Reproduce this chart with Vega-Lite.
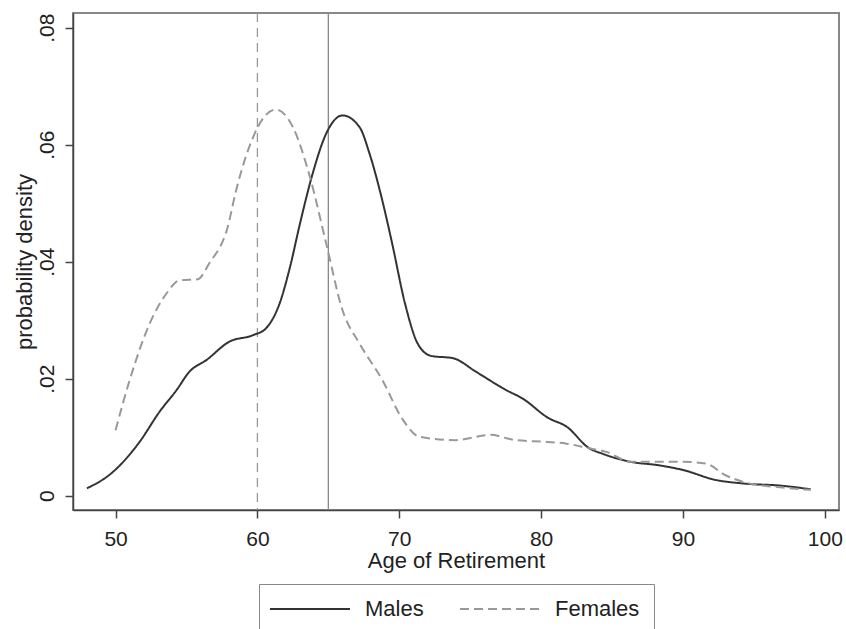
{
  "$schema": "https://vega.github.io/schema/vega-lite/v6.json",
  "width": 766,
  "height": 497,
  "autosize": {"type": "none"},
  "padding": {"left": 73, "top": 13, "right": 7, "bottom": 119},
  "background": "white",
  "config": {
    "view": {"stroke": "#888", "strokeWidth": 2},
    "font": "Liberation Sans",
    "axis": {
      "labelFont": "Liberation Sans",
      "titleFont": "Liberation Sans",
      "labelColor": "#222",
      "titleColor": "#222",
      "titleFontWeight": "normal",
      "grid": false,
      "domainColor": "#444",
      "domainWidth": 1.5,
      "tickColor": "#444",
      "tickWidth": 1.5,
      "tickSize": 8
    }
  },
  "datasets": {
    "curves": [
      {"age": 47.98, "density": 0.00126, "sex": "Males"},
      {"age": 49.7, "density": 0.00383, "sex": "Males"},
      {"age": 51.7, "density": 0.00922, "sex": "Males"},
      {"age": 53.1, "density": 0.01435, "sex": "Males"},
      {"age": 54.3, "density": 0.01805, "sex": "Males"},
      {"age": 55.2, "density": 0.02118, "sex": "Males"},
      {"age": 56.4, "density": 0.02318, "sex": "Males"},
      {"age": 58.0, "density": 0.0263, "sex": "Males"},
      {"age": 59.7, "density": 0.02745, "sex": "Males"},
      {"age": 60.6, "density": 0.0286, "sex": "Males"},
      {"age": 61.6, "density": 0.0331, "sex": "Males"},
      {"age": 62.3, "density": 0.0391, "sex": "Males"},
      {"age": 63.0, "density": 0.0465, "sex": "Males"},
      {"age": 63.9, "density": 0.0551, "sex": "Males"},
      {"age": 64.85, "density": 0.0619, "sex": "Males"},
      {"age": 66.0, "density": 0.065, "sex": "Males"},
      {"age": 67.2, "density": 0.063, "sex": "Males"},
      {"age": 67.9, "density": 0.0585, "sex": "Males"},
      {"age": 68.8, "density": 0.0505, "sex": "Males"},
      {"age": 69.5, "density": 0.0431, "sex": "Males"},
      {"age": 70.4, "density": 0.0329, "sex": "Males"},
      {"age": 71.3, "density": 0.026, "sex": "Males"},
      {"age": 72.25, "density": 0.0239, "sex": "Males"},
      {"age": 73.8, "density": 0.0235, "sex": "Males"},
      {"age": 75.4, "density": 0.0212, "sex": "Males"},
      {"age": 77.5, "density": 0.0181, "sex": "Males"},
      {"age": 78.7, "density": 0.0166, "sex": "Males"},
      {"age": 80.5, "density": 0.0133, "sex": "Males"},
      {"age": 81.8, "density": 0.0118, "sex": "Males"},
      {"age": 83.4, "density": 0.0081, "sex": "Males"},
      {"age": 84.3, "density": 0.0072, "sex": "Males"},
      {"age": 86.3, "density": 0.0058, "sex": "Males"},
      {"age": 88.3, "density": 0.0052, "sex": "Males"},
      {"age": 90.0, "density": 0.0044, "sex": "Males"},
      {"age": 92.3, "density": 0.0027, "sex": "Males"},
      {"age": 94.2, "density": 0.0021, "sex": "Males"},
      {"age": 97.0, "density": 0.0017, "sex": "Males"},
      {"age": 99.0, "density": 0.0011, "sex": "Males"},
      {"age": 50.0, "density": 0.0112, "sex": "Females"},
      {"age": 51.0, "density": 0.0198, "sex": "Females"},
      {"age": 52.4, "density": 0.0294, "sex": "Females"},
      {"age": 53.6, "density": 0.0346, "sex": "Females"},
      {"age": 54.5, "density": 0.0368, "sex": "Females"},
      {"age": 55.8, "density": 0.037, "sex": "Females"},
      {"age": 56.6, "density": 0.0397, "sex": "Females"},
      {"age": 57.9, "density": 0.0459, "sex": "Females"},
      {"age": 58.5, "density": 0.0522, "sex": "Females"},
      {"age": 59.7, "density": 0.0613, "sex": "Females"},
      {"age": 60.4, "density": 0.0645, "sex": "Females"},
      {"age": 61.3, "density": 0.066, "sex": "Females"},
      {"age": 62.5, "density": 0.063, "sex": "Females"},
      {"age": 63.7, "density": 0.0545, "sex": "Females"},
      {"age": 64.85, "density": 0.0431, "sex": "Females"},
      {"age": 66.0, "density": 0.0317, "sex": "Females"},
      {"age": 67.2, "density": 0.026, "sex": "Females"},
      {"age": 68.8, "density": 0.0198, "sex": "Females"},
      {"age": 70.25, "density": 0.013, "sex": "Females"},
      {"age": 71.4, "density": 0.0101, "sex": "Females"},
      {"age": 74.0, "density": 0.0095, "sex": "Females"},
      {"age": 76.4, "density": 0.0104, "sex": "Females"},
      {"age": 78.2, "density": 0.0095, "sex": "Females"},
      {"age": 80.4, "density": 0.0092, "sex": "Females"},
      {"age": 81.8, "density": 0.0089, "sex": "Females"},
      {"age": 83.4, "density": 0.0081, "sex": "Females"},
      {"age": 84.6, "density": 0.0075, "sex": "Females"},
      {"age": 86.3, "density": 0.0058, "sex": "Females"},
      {"age": 88.1, "density": 0.0058, "sex": "Females"},
      {"age": 90.0, "density": 0.0058, "sex": "Females"},
      {"age": 91.6, "density": 0.0055, "sex": "Females"},
      {"age": 93.0, "density": 0.0035, "sex": "Females"},
      {"age": 94.2, "density": 0.0024, "sex": "Females"},
      {"age": 97.0, "density": 0.0014, "sex": "Females"},
      {"age": 99.0, "density": 0.001, "sex": "Females"}
    ]
  },
  "layer": [
    {
      "data": {"values": [{"age": 60}]},
      "mark": {"type": "rule", "color": "#999", "strokeWidth": 1.3, "strokeDash": [9, 6]},
      "encoding": {"x": {"field": "age", "type": "quantitative", "scale": {"domain": [47, 101], "nice": false, "zero": false}}}
    },
    {
      "data": {"values": [{"age": 65}]},
      "mark": {"type": "rule", "color": "#888", "strokeWidth": 1.3},
      "encoding": {"x": {"field": "age", "type": "quantitative"}}
    },
    {
      "data": {"name": "curves"},
      "mark": {"type": "line", "strokeWidth": 2, "interpolate": "monotone"},
      "encoding": {
        "x": {
          "field": "age",
          "type": "quantitative",
          "scale": {"domain": [47, 101], "nice": false, "zero": false},
          "axis": {
            "values": [50, 60, 70, 80, 90, 100],
            "title": "Age of Retirement",
            "labelFontSize": 21,
            "titleFontSize": 22,
            "labelPadding": 10,
            "titleBaseline": "alphabetic",
            "titleY": 57
          }
        },
        "y": {
          "field": "density",
          "type": "quantitative",
          "scale": {"domain": [-0.00244, 0.0825], "nice": false, "zero": false},
          "axis": {
            "values": [0, 0.02, 0.04, 0.06, 0.08],
            "labelExpr": "datum.value == 0 ? '0' : replace(format(datum.value, '.2f'), '0.', '.')",
            "title": "probability density",
            "labelFontSize": 21,
            "titleFontSize": 22,
            "labelAngle": -90,
            "labelAlign": "center",
            "labelBaseline": "bottom",
            "labelPadding": 8,
            "titleAngle": -90,
            "titleBaseline": "middle",
            "titleX": -49
          }
        },
        "color": {
          "field": "sex",
          "type": "nominal",
          "scale": {"domain": ["Males", "Females"], "range": ["#333", "#999"]},
          "legend": {
            "title": null,
            "orient": "none",
            "legendX": 186,
            "legendY": 571,
            "direction": "horizontal",
            "columns": 2,
            "symbolType": "M-8,0H8",
            "symbolSize": 100,
            "symbolStrokeWidth": 2,
            "symbolOffset": 26,
            "labelFontSize": 22,
            "labelFont": "Liberation Sans",
            "labelColor": "#222",
            "labelOffset": 44,
            "columnPadding": 32,
            "padding": 14,
            "strokeColor": "#888",
            "fillColor": "white"
          }
        },
        "strokeDash": {
          "field": "sex",
          "type": "nominal",
          "scale": {"domain": ["Males", "Females"], "range": [[1, 0], [9, 5]]},
          "legend": null
        }
      }
    }
  ]
}
